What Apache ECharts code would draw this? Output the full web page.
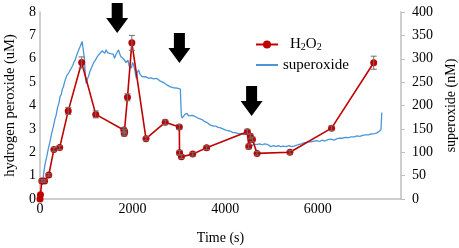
<!DOCTYPE html>
<html>
<head>
<meta charset="utf-8">
<script src="https://cdn.jsdelivr.net/npm/echarts@6/dist/echarts.min.js"></script>
<style>
html,body{margin:0;padding:0;background:#fff;}
#c{width:459px;height:248px;}
</style>
</head>
<body>
<div id="c"></div>
<script>
// H2O2 (uM) measurements
var h2Time = [0, 10, 40, 100, 190, 300, 425, 610, 900, 1205, 1810, 1820, 1830, 1890, 1985, 2290, 2705, 3010, 3015, 3055, 3300, 3600, 4480, 4510, 4545, 4590, 4690, 5400, 6300, 7210];
var h2Val  = [0, 0.18, 0.77, 0.77, 1.03, 2.12, 2.2, 3.77, 5.84, 3.62, 2.95, 2.8, 2.88, 4.35, 6.68, 2.58, 3.28, 3.08, 1.98, 1.81, 1.92, 2.19, 2.88, 2.25, 2.68, 2.55, 1.95, 2.0, 3.03, 5.83];
var h2Err  = [0, 0, 0.05, 0.05, 0.05, 0.08, 0.08, 0.15, 0.24, 0.15, 0.1, 0.1, 0.1, 0.15, 0.32, 0.08, 0.1, 0.1, 0.1, 0.08, 0.08, 0.08, 0.1, 0.1, 0.1, 0.1, 0.08, 0.08, 0.1, 0.28];

// superoxide (nM) trace
var soTime = [50,80,110,145,180,215,250,289,320,350,380,410,433,460,480,506,530,560,580,614,640,660,686,710,730,760,794,820,840,867,890,910,939,
  960,980,997,1020,1047,1080,1110,1155,1190,1230,1264,1300,1340,1372,1400,1430,1460,1490,1517,1550,1580,1610,1640,1670,1697,1720,1745,1770,1800,1830,1860,1878,1900,1925,1950,1975,2000,2022,2050,2065,2080,2100,2130,2160,2203,2239,
  2300,2350,2400,2450,2490,2528,2560,2600,2630,2672,2700,2740,2780,2817,2850,2880,2920,2961,3000,3033,3045,3055,3070,3100,3130,3150,3178,3210,3250,3290,3322,3360,3400,3440,3467,3500,3550,3600,3640,3683,3720,3755,3800,3850,3900,3950,4000,4060,4117,4170,4220,4280,4340,4400,4442,4480,4514,4530,4550,4580,4620,4660,4695,4750,4800,4850,4912,
  4983,5050,5100,5150,5200,5260,5320,5380,5430,5489,5550,5600,5650,5700,5750,5800,5860,5923,5980,6040,6100,6160,6220,6290,6356,6420,6480,6540,6600,6660,6720,6790,6850,6910,6970,7030,7090,7150,7224,7270,7320,7367,7380,7385];
var soVal  = [30,55,75,90,108,122,140,155,170,180,196,205,219,224,234,240,250,252,264,269,266,277,280,286,292,297,308,312,320,326,329,337,340,
  300,262,247,256,262,273,280,291,296,303,308,311,317,315,312,319,313,317,311,308,310,301,309,313,319,311,305,309,300,297,292,290,297,285,283,280,292,287,275,266,258,271,276,267,262,260,
  261,258,259,257,259,258,254,252,254,249,248,244,245,240,241,238,239,237,236,235,200,178,173,177,181,178,183,178,180,179,178,176,176,172,173,170,166,164,160,158,160,156,156,153,152,150,148,146,145,142,142,140,140,138,137,139,137,125,112,115,117,115,117,118,116,118,117,
  112,114,112,114,112,113,112,114,112,113,115,117,118,120,121,122,122,124,125,123,126,124,127,128,126,129,130,130,132,131,133,133,135,134,136,137,137,139,140,141,144,148,150,185];

// event arrows (time, vertical position on H2O2 axis)
var arrowTime = [1668, 3012, 4572];
var arrowY    = [7.74, 6.46, 4.19];

var xTicks = {min: 0, max: 7800, interval: 2000};
var leftTicks = {min: 0, max: 8, interval: 1};
var rightTicks = {min: 0, max: 400, interval: 50};

var FONT = 'Liberation Serif';
var h2Data = h2Time.map(function(t, i){ return [t, h2Val[i]]; });
var errData = h2Time.map(function(t, i){ return [t, h2Val[i] - h2Err[i], h2Val[i] + h2Err[i]]; });
var soData = soTime.map(function(t, i){ return [t, soVal[i]]; });
var arrowData = arrowTime.map(function(t, i){ return [t, arrowY[i]]; });

var chart = echarts.init(document.getElementById('c'), null, {renderer: 'canvas'});
chart.setOption({
  animation: false,
  backgroundColor: '#fff',
  textStyle: {fontFamily: FONT, color: '#000'},
  grid: {left: 40, right: 58, top: 12, bottom: 49, containLabel: false, outerBoundsMode: 'none'},
  legend: {
    orient: 'vertical', left: 255, top: 37, padding: 0, itemWidth: 22, itemHeight: 10, itemGap: 5,
    data: ['H2O2', 'superoxide'],
    textStyle: {fontFamily: FONT, fontSize: 15, color: '#000',
      rich: {a: {fontFamily: FONT, fontSize: 15, color: '#000'},
             p: {fontFamily: FONT, fontSize: 15, color: '#000', padding: [0,0,0,7]},
             s: {fontFamily: FONT, fontSize: 10, color: '#000', verticalAlign: 'bottom', padding: [6,0,0,0]}}},
    formatter: function(n){ return n === 'H2O2' ? '{p|H}{s|2}{a|O}{s|2}' : '{a|' + n + '}'; }
  },
  xAxis: {
    type: 'value', min: xTicks.min, max: xTicks.max, interval: xTicks.interval,
    name: 'Time (s)', nameLocation: 'middle', nameGap: 32,
    nameTextStyle: {fontFamily: FONT, fontSize: 14, color: '#000'},
    axisLine: {lineStyle: {color: '#bfbfbf', width: 1.5}},
    axisTick: {show: false}, splitLine: {show: false},
    axisLabel: {fontFamily: FONT, fontSize: 14, color: '#000', margin: 3, showMaxLabel: false,
      formatter: function(v){ return String(v); }}
  },
  yAxis: [{
    type: 'value', min: leftTicks.min, max: leftTicks.max, interval: leftTicks.interval,
    name: 'hydrogen peroxide (uM)', nameLocation: 'middle', nameGap: 21, nameRotate: 90,
    nameTextStyle: {fontFamily: FONT, fontSize: 14.5, color: '#000'},
    axisLine: {show: true, lineStyle: {color: '#bfbfbf', width: 1.5}},
    axisTick: {show: false}, splitLine: {show: false},
    axisLabel: {fontFamily: FONT, fontSize: 14, color: '#000', margin: 4}
  }, {
    type: 'value', position: 'right', min: rightTicks.min, max: rightTicks.max, interval: rightTicks.interval,
    name: 'superoxide (nM)', nameLocation: 'middle', nameGap: 41, nameRotate: 90,
    nameTextStyle: {fontFamily: FONT, fontSize: 14, color: '#000'},
    axisLine: {show: true, lineStyle: {color: '#bfbfbf', width: 1.5}},
    axisTick: {show: true, inside: false, length: 4, lineStyle: {color: '#bfbfbf'}}, splitLine: {show: false},
    axisLabel: {fontFamily: FONT, fontSize: 14, color: '#000', margin: 11}
  }],
  series: [{
    name: 'superoxide', type: 'line', yAxisIndex: 1, data: soData,
    showSymbol: false, symbol: 'none',
    lineStyle: {color: '#4a96d8', width: 1.3}, itemStyle: {color: 'rgba(0,0,0,0)'}, z: 2
  }, {
    name: 'H2O2', type: 'line', yAxisIndex: 0, data: h2Data,
    symbol: 'circle', symbolSize: 7,
    lineStyle: {color: '#c00000', width: 1.6}, itemStyle: {color: '#c00000'}, z: 3
  }, {
    type: 'custom', yAxisIndex: 0, data: errData, z: 4, silent: true,
    renderItem: function(params, api){
      var x = api.value(0), lo = api.coord([x, api.value(1)]), hi = api.coord([x, api.value(2)]);
      if (Math.abs(hi[1] - lo[1]) < 1) return null;
      var st = {stroke: '#6f6f6f', lineWidth: 1};
      return {type: 'group', children: [
        {type: 'line', shape: {x1: lo[0], y1: lo[1], x2: hi[0], y2: hi[1]}, style: st},
        {type: 'line', shape: {x1: lo[0]-3, y1: lo[1], x2: lo[0]+3, y2: lo[1]}, style: st},
        {type: 'line', shape: {x1: hi[0]-3, y1: hi[1], x2: hi[0]+3, y2: hi[1]}, style: st}
      ]};
    }
  }, {
    type: 'scatter', yAxisIndex: 0, data: arrowData, silent: true, z: 5,
    symbol: 'path://M5.5,0 L16.5,0 L16.5,15 L22,15 L11,30 L0,15 L5.5,15 Z',
    symbolSize: [22, 30], itemStyle: {color: '#000', opacity: 1}
  }]
});
</script>
</body>
</html>
